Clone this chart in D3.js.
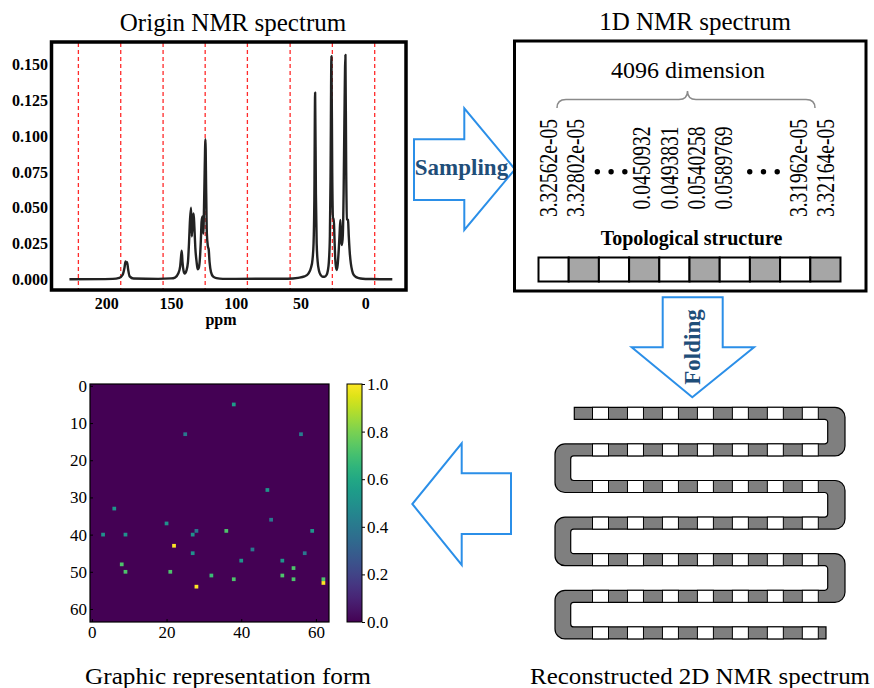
<!DOCTYPE html>
<html><head><meta charset="utf-8">
<script src="https://cdn.jsdelivr.net/npm/d3@7/dist/d3.min.js"></script>
<style>
html,body{margin:0;padding:0;background:#fff;}
svg{display:block;font-family:"Liberation Serif","Times New Roman",serif;}
</style></head>
<body>
<svg id="fig" width="874" height="688"></svg>
<script>
// ---------------- DATA ----------------
// Origin NMR spectrum (ppm, intensity)
const specPpm = [228.5,195,190,187.5,186,185.2,184.6,184,183.2,182,179,160,150,147,144.5,143,142.4,141.8,141.2,140.4,139.5,138.2,137,136.2,135.5,134.6,134.0,133.4,132.6,132,131.3,130.3,129.5,128.6,127.8,127,126.5,125.8,125.2,124.6,124.1,123.5,122.9,122.4,121.6,121,120.3,119.2,117.5,115,110,
  100,60,52,47,44,42,40.8,40,39.4,38.8,38.2,37.6,36.8,35.8,34.5,33,31.5,30,29,28.2,27.4,26.9,26.2,25.6,25,24.4,23.9,23.3,22.6,22.1,21.4,20.6,19.9,19.3,18.6,18,17.4,16.8,16.2,15.4,14.8,14.2,13.4,12.8,12,11.2,10.2,9,7,5,2,-5,-20.8];
const specInt = [0,0.0003,0.001,0.003,0.008,0.0125,0.011,0.012,0.007,0.002,0.0005,0.0003,0.0006,0.0012,0.004,0.009,0.015,0.020,0.012,0.006,0.004,0.006,0.012,0.025,0.040,0.050,0.030,0.041,0.046,0.036,0.022,0.012,0.007,0.008,0.014,0.028,0.040,0.044,0.032,0.050,0.075,0.098,0.060,0.032,0.023,0.021,0.012,0.005,0.0018,0.0008,0.0003,
  0.0003,0.0004,0.001,0.002,0.004,0.008,0.014,0.025,0.055,0.1306,0.06,0.025,0.012,0.006,0.003,0.0018,0.0018,0.003,0.006,0.012,0.030,0.070,0.156,0.075,0.042,0.0427,0.030,0.015,0.008,0.0065,0.010,0.020,0.032,0.0415,0.026,0.024,0.031,0.060,0.110,0.157,0.075,0.042,0.0415,0.030,0.018,0.011,0.006,0.003,0.0015,0.0008,0.0004,0.0002,0];
const gridPpm = [221.6,188.9,156.2,123.7,91.1,58.1,25.5,-7.2];
const specYTicks = [0,0.025,0.05,0.075,0.1,0.125,0.15];
const specXTicks = [200,150,100,50,0];

// 1D NMR spectrum sample values
const sampleLabels = ["3.32562e-05","3.32802e-05","0.0450932","0.0493831","0.0540258","0.0589769","3.31962e-05","3.32164e-05"];
const topoPattern = [0,1,0,1,0,1,0,1,0,1]; // 0 = white, 1 = grey

// Reconstructed 2D spectrum: rows and cells per row
const foldRows = 7;
const foldCells = 7;

// Graphic representation (64x64 image) non-zero pixels
const hmCol = [38,25,56,47,6,48,20,36,59,28,3,9,27,22,43,27,57,40,51,8,54,9,21,32,51,38,54,62,62,28];
const hmRow = [5,13,13,28,33,36,37,39,39,39,40,40,40,43,44,45,45,47,47,48,49,50,50,51,51,52,52,52,53,54];
const hmVal = [0.55,0.4,0.42,0.52,0.52,0.4,0.5,0.72,0.52,0.4,0.5,0.5,0.5,1.0,0.4,0.5,0.4,0.52,0.52,0.72,0.72,0.72,0.72,0.68,0.72,0.72,0.72,0.72,1.0,1.0];
const hmXTicks = [0,20,40,60];
const hmYTicks = [0,10,20,30,40,50,60];
const cbTicks = [0,0.2,0.4,0.6,0.8,1.0];

// ---------------- DRAW ----------------
const svg = d3.select("#fig");
svg.append("rect").attr("width",874).attr("height",688).attr("fill","#fff");
const serif = '"Liberation Serif","Times New Roman",serif';
const arrowBlue = "#2b8fe8";
const textBlue = "#1f4e79";

// ===== Panel 1: Origin NMR spectrum =====
const p1 = svg.append("g");
const sx = d3.scaleLinear().domain([241.2,-30.6]).range([53,405]);
const sy = d3.scaleLinear().domain([-0.0075,0.166]).range([290,42]);
p1.append("text").attr("x",233).attr("y",31).attr("text-anchor","middle")
  .attr("font-size",25).text("Origin NMR spectrum");
p1.selectAll("line.grid").data(gridPpm).join("line").attr("class","grid")
  .attr("x1",d=>sx(d)).attr("x2",d=>sx(d)).attr("y1",43).attr("y2",289)
  .attr("stroke","#ff2a2a").attr("stroke-width",1.3).attr("stroke-dasharray","4,3");
const specPts = specPpm.map((p,i)=>[p,specInt[i]]);
p1.append("path").datum(specPts)
  .attr("d",d3.line().x(d=>sx(d[0])).y(d=>sy(d[1])).curve(d3.curveMonotoneX))
  .attr("fill","none").attr("stroke","#222").attr("stroke-width",2.4).attr("stroke-linejoin","round");
p1.append("rect").attr("x",51.5).attr("y",42).attr("width",354.5).attr("height",248)
  .attr("fill","none").attr("stroke","#000").attr("stroke-width",3.5);
const yAx = p1.append("g").attr("transform","translate(52,0)")
  .call(d3.axisLeft(sy).tickValues(specYTicks).tickSize(0).tickPadding(4).tickFormat(d3.format(".3f")));
yAx.select(".domain").remove();
yAx.selectAll("text").attr("font-family",serif).attr("font-size",16).attr("font-weight","bold").attr("fill","#000");
const xAx = p1.append("g").attr("transform","translate(0,291)")
  .call(d3.axisBottom(sx).tickValues(specXTicks).tickSize(0).tickPadding(7));
xAx.select(".domain").remove();
xAx.selectAll("text").attr("font-family",serif).attr("font-size",16).attr("font-weight","bold").attr("fill","#000");
p1.append("text").attr("x",221).attr("y",325).attr("text-anchor","middle")
  .attr("font-size",16).attr("font-weight","bold").text("ppm");

// ===== Sampling arrow =====
const sampPts = [[414,139.3],[464.3,139.3],[464.3,108.3],[515,169.3],[464.3,230],[464.3,200],[414,200]];
svg.append("path").attr("d",d3.line()(sampPts)+"Z").attr("fill","#fff")
  .attr("stroke",arrowBlue).attr("stroke-width",2);
svg.append("text").attr("x",461.5).attr("y",175).attr("text-anchor","middle")
  .attr("font-size",23).attr("font-weight","bold").attr("fill",textBlue).text("Sampling");

// ===== Panel 2: 1D NMR spectrum =====
const p2 = svg.append("g");
p2.append("text").attr("x",695).attr("y",30).attr("text-anchor","middle")
  .attr("font-size",25).text("1D NMR spectrum");
p2.append("rect").attr("x",514.5).attr("y",41).attr("width",351.5).attr("height",250)
  .attr("fill","none").attr("stroke","#000").attr("stroke-width",3);
p2.append("text").attr("x",688).attr("y",78).attr("text-anchor","middle")
  .attr("font-size",24).text("4096 dimension");
p2.append("path")
  .attr("d","M557,108 Q557,99.5 566,99.5 L679,99.5 Q687.5,99.5 687.5,91 Q687.5,99.5 696,99.5 L806,99.5 Q815,99.5 815,108")
  .attr("fill","none").attr("stroke","#8a8a8a").attr("stroke-width",1.5);
// slot layout for the rotated numbers
const slotIdx = [0,1,3.4,4.4,5.4,6.4,9.1,10.1];
const slotX = d3.scaleLinear().domain([0,10.1]).range([556.7,834]);
p2.selectAll("text.num").data(sampleLabels).join("text").attr("class","num")
  .attr("transform",(d,i)=>`translate(${slotX(slotIdx[i])},168) rotate(-90) scale(1,1.3)`)
  .attr("text-anchor","middle").attr("font-size",19.5).text(d=>d);
const dotSlots = [1.7,2.2,2.7,7.25,7.75,8.25];
p2.selectAll("circle.dot").data(dotSlots).join("circle").attr("class","dot")
  .attr("cx",d=>slotX(d)-6).attr("cy",171.7).attr("r",2.7).attr("fill","#000");
p2.append("text").attr("x",691.5).attr("y",245).attr("text-anchor","middle")
  .attr("font-size",20).attr("font-weight","bold").text("Topological structure");
const tb = d3.scaleBand().domain(d3.range(topoPattern.length)).range([538.5,840.5]);
p2.selectAll("rect.topo").data(topoPattern).join("rect").attr("class","topo")
  .attr("x",(d,i)=>tb(i)).attr("y",257.5).attr("width",tb.bandwidth()).attr("height",24)
  .attr("fill",d=>d? "#a6a6a6":"#fff").attr("stroke","#000").attr("stroke-width",2);

// ===== Folding arrow =====
const foldPts = [[662.7,297.3],[722.7,297.3],[722.7,347.3],[754,347.3],[692.3,397.3],[631.7,347.3],[662.7,347.3]];
svg.append("path").attr("d",d3.line()(foldPts)+"Z").attr("fill","#fff")
  .attr("stroke",arrowBlue).attr("stroke-width",2);
svg.append("text").attr("transform","translate(700,347) rotate(-90)").attr("text-anchor","middle")
  .attr("font-size",23).attr("font-weight","bold").attr("fill",textBlue).text("Folding");

// ===== Panel 4: Reconstructed 2D NMR spectrum (serpentine) =====
const p4 = svg.append("g");
const rowY = d3.scaleLinear().domain([0,foldRows-1]).range([413.3,632.9]);
const half = 6, R = 10, r = 3;
const outerR = 845, innerR = 827.7, outerL = 555, innerL = 570.7;
const startX = 574.3, endX = 826;
const sp = d3.path();
sp.moveTo(startX, rowY(0)-half);
for (let k=0;k<foldRows-1;k++){
  const y0 = rowY(k), y1 = rowY(k+1);
  if (k%2===0){ // right turn, outer edge
    sp.lineTo(outerR-R, y0-half);
    sp.arcTo(outerR, y0-half, outerR, y0-half+R, R);
    sp.lineTo(outerR, y1+half-R);
    sp.arcTo(outerR, y1+half, outerR-R, y1+half, R);
  } else { // left turn, inner edge
    sp.lineTo(innerL+r, y0+half);
    sp.arcTo(innerL, y0+half, innerL, y0+half+r, r);
    sp.lineTo(innerL, y1-half-r);
    sp.arcTo(innerL, y1-half, innerL+r, y1-half, r);
  }
}
const yl = rowY(foldRows-1);
sp.lineTo(endX, yl-half);
sp.lineTo(endX, yl+half);
for (let k=foldRows-2;k>=0;k--){
  const y0 = rowY(k), y1 = rowY(k+1);
  if (k%2===1){ // left turn, outer edge
    sp.lineTo(outerL+R, y1+half);
    sp.arcTo(outerL, y1+half, outerL, y1+half-R, R);
    sp.lineTo(outerL, y0-half+R);
    sp.arcTo(outerL, y0-half, outerL+R, y0-half, R);
  } else { // right turn, inner edge
    sp.lineTo(innerR-r, y1-half);
    sp.arcTo(innerR, y1-half, innerR, y1-half-r, r);
    sp.lineTo(innerR, y0+half+r);
    sp.arcTo(innerR, y0+half, innerR-r, y0+half, r);
  }
}
sp.lineTo(startX, rowY(0)+half);
sp.closePath();
p4.append("path").attr("d",sp.toString()).attr("fill","#7f7f7f").attr("stroke","#000").attr("stroke-width",1.2);
const cellX = d3.scaleLinear().domain([0,foldCells-1]).range([600.5,810.3]);
const cells = [];
for (let i=0;i<foldRows;i++) for (let j=0;j<foldCells;j++) cells.push([i,j]);
p4.selectAll("rect.fc").data(cells).join("rect").attr("class","fc")
  .attr("x",d=>cellX(d[1])-8).attr("y",d=>rowY(d[0])-half).attr("width",16).attr("height",12)
  .attr("fill","#fff").attr("stroke","#000").attr("stroke-width",1);
p4.append("text").attr("x",700).attr("y",684).attr("text-anchor","middle")
  .attr("font-size",24).attr("textLength",340).attr("lengthAdjust","spacingAndGlyphs")
  .text("Reconstructed 2D NMR spectrum");

// ===== Left arrow =====
const leftPts = [[511,473.3],[461.7,473.3],[461.7,443.3],[412.3,504],[461.7,565],[461.7,534],[511,534]];
svg.append("path").attr("d",d3.line()(leftPts)+"Z").attr("fill","#fff")
  .attr("stroke",arrowBlue).attr("stroke-width",2);

// ===== Panel 3: Graphic representation (heatmap) =====
const p3 = svg.append("g");
const hx = d3.scaleLinear().domain([-0.5,63.5]).range([90,329]);
const hy = d3.scaleLinear().domain([-0.5,63.5]).range([384,622]);
const viridis = d3.interpolateViridis;
p3.append("rect").attr("x",90).attr("y",384).attr("width",239).attr("height",238).attr("fill",viridis(0));
const hmData = hmCol.map((c,i)=>({c, r:hmRow[i], v:hmVal[i]}));
p3.selectAll("rect.px").data(hmData).join("rect").attr("class","px")
  .attr("x",d=>hx(d.c-0.5)).attr("y",d=>hy(d.r-0.5))
  .attr("width",hx(1)-hx(0)).attr("height",hy(1)-hy(0)).attr("fill",d=>viridis(d.v));
p3.append("rect").attr("x",90).attr("y",384).attr("width",239).attr("height",238)
  .attr("fill","none").attr("stroke","#000").attr("stroke-width",1.2);
const hxa = p3.append("g").attr("transform","translate(0,622)")
  .call(d3.axisBottom(hx).tickValues(hmXTicks).tickSize(-3).tickPadding(4));
hxa.select(".domain").remove();
const hya = p3.append("g").attr("transform","translate(90,0)")
  .call(d3.axisLeft(hy).tickValues(hmYTicks).tickSize(-3).tickPadding(3));
hya.select(".domain").remove();
[hxa,hya].forEach(a=>a.selectAll("text").attr("font-family",serif).attr("font-size",17).attr("fill","#000"));
// colorbar
const defs = svg.append("defs");
const grad = defs.append("linearGradient").attr("id","vir").attr("x1",0).attr("x2",0).attr("y1",1).attr("y2",0);
d3.range(0,1.0001,0.05).forEach(t=>grad.append("stop").attr("offset",t).attr("stop-color",viridis(t)));
const cb = d3.scaleLinear().domain([0,1]).range([622,384]);
p3.append("rect").attr("x",347).attr("y",384).attr("width",15).attr("height",238)
  .attr("fill","url(#vir)").attr("stroke","#000").attr("stroke-width",1);
const cba = p3.append("g").attr("transform","translate(362,0)")
  .call(d3.axisRight(cb).tickValues(cbTicks).tickSize(3).tickPadding(2).tickFormat(d3.format(".1f")));
cba.select(".domain").remove();
cba.selectAll("text").attr("font-family",serif).attr("font-size",17).attr("fill","#000");
p3.append("text").attr("x",228).attr("y",684).attr("text-anchor","middle")
  .attr("font-size",24).attr("textLength",286).attr("lengthAdjust","spacingAndGlyphs")
  .text("Graphic representation form");
</script>
</body></html>
